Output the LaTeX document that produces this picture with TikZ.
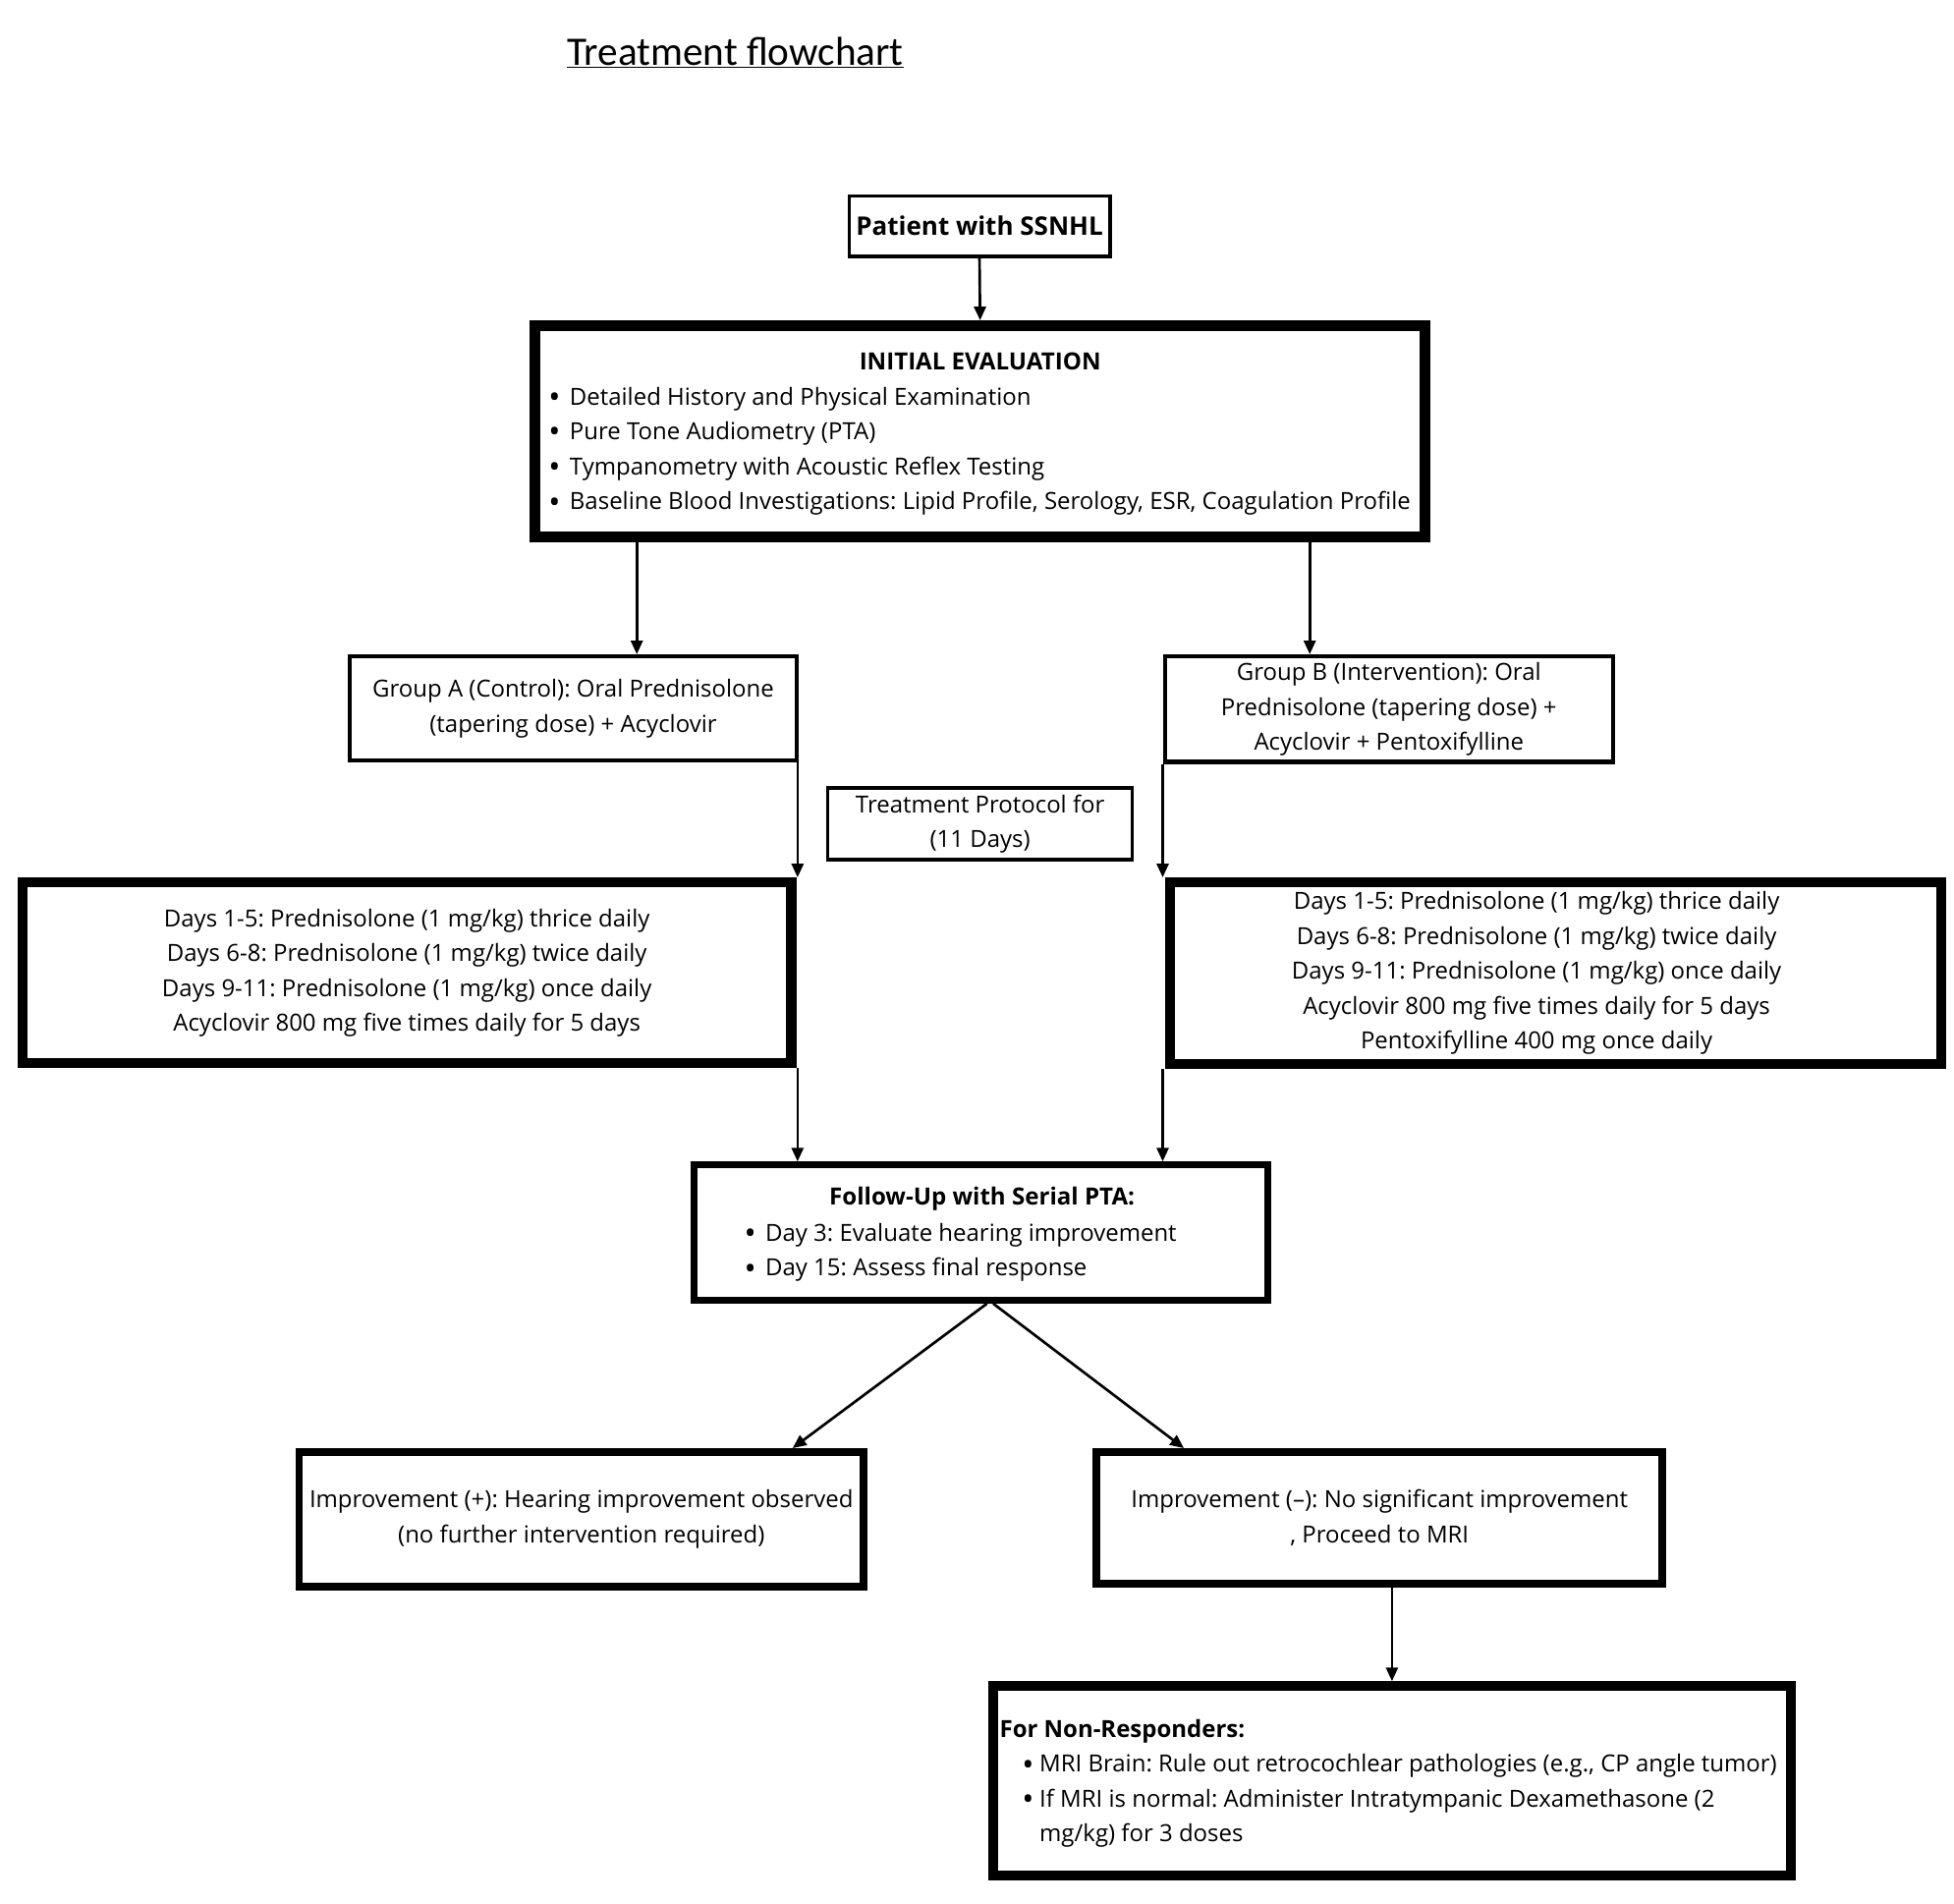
\documentclass[tikz,border=0pt]{standalone}
\usepackage{fontspec}
\setmainfont{Open Sans}
\newfontfamily\titlefont{Carlito}
\usetikzlibrary{arrows.meta}
\newcommand\bult[1]{\makebox[#1][l]{\raisebox{-2.6pt}{\scalebox{1.35}{\textbullet}}}}
\frenchspacing
\begin{document}
\begin{tikzpicture}[x=1pt,y=-1pt,
  every node/.style={font=\fontsize{18.9pt}{28pt}\selectfont},
  txt/.style={inner sep=0pt, align=center},
  box/.style={draw, inner sep=0pt, line width=#1},
  arr/.style={line width=2.1pt, -{Triangle[length=11pt,width=9.5pt]}}]
\useasboundingbox (0,0) rectangle (1568,1527);

% title
\node[txt, font=\titlefont\fontsize{32.5pt}{36pt}\selectfont] (title) at (590,42) {\underline{Treatment flowchart}};

% boxes
\node[txt, box=2.5pt, minimum width=209.5pt, minimum height=48.5pt, font=\bfseries\fontsize{20.5pt}{28pt}\selectfont] (patient) at (786,181.5) {Patient with SSNHL};

\node[box=8.5pt, minimum width=714.5pt, minimum height=169.5pt] (eval) at (786.5,346) {};
\node[txt, font=\bfseries\fontsize{19pt}{28pt}\selectfont] (evalt) at (786.5,290) {INITIAL EVALUATION};
\node[txt, align=left, anchor=west] (evalb) at (440,362) {\bult{17pt}Detailed History and Physical Examination\\
\bult{17pt}Pure Tone Audiometry (PTA)\\
\bult{17pt}Tympanometry with Acoustic Reflex Testing\\
\bult{17pt}Baseline Blood Investigations: Lipid Profile, Serology, ESR, Coagulation Profile};

\node[txt, box=3.5pt, minimum width=358.5pt, minimum height=83.5pt] (grpA) at (460,568.5) {Group A (Control): Oral Prednisolone\\(tapering dose) + Acyclovir};
\node[txt, box=3.5pt, minimum width=359.5pt, minimum height=84.5pt] (grpB) at (1114.5,569) {Group B (Intervention): Oral\\Prednisolone (tapering dose) +\\Acyclovir + Pentoxifylline};

\node[txt, box=2.5pt, minimum width=244.5pt, minimum height=57.5pt] (proto) at (786.5,661) {Treatment Protocol for\\(11 Days)};

\node[txt, box=8pt, minimum width=617pt, minimum height=145pt] (daysA) at (326.5,780.5) {Days 1-5: Prednisolone (1 mg/kg) thrice daily\\Days 6-8: Prednisolone (1 mg/kg) twice daily\\Days 9-11: Prednisolone (1 mg/kg) once daily\\Acyclovir 800 mg five times daily for 5 days};

\node[box=8pt, minimum width=619pt, minimum height=146pt] (daysB) at (1248.5,781) {};
\node[txt] (daysBt) at (1233,781) {Days 1-5: Prednisolone (1 mg/kg) thrice daily\\Days 6-8: Prednisolone (1 mg/kg) twice daily\\Days 9-11: Prednisolone (1 mg/kg) once daily\\Acyclovir 800 mg five times daily for 5 days\\Pentoxifylline 400 mg once daily};

\node[box=5.5pt, minimum width=460.5pt, minimum height=108.5pt] (follow) at (787,989) {};
\node[txt, font=\bfseries\fontsize{19pt}{28pt}\selectfont] (followt) at (788,962) {Follow-Up with Serial PTA:};
\node[txt, align=left, anchor=west] (followb) at (597,1005) {\bult{17pt}Day 3: Evaluate hearing improvement\\
\bult{17pt}Day 15: Assess final response};

\node[txt, box=6pt, minimum width=453pt, minimum height=108pt] (impP) at (466.5,1219) {Improvement (+): Hearing improvement observed\\(no further intervention required)};
\node[txt, box=6pt, minimum width=454pt, minimum height=106pt] (impM) at (1107,1218) {Improvement (--): No significant improvement\\, Proceed to MRI};

\node[box=8pt, minimum width=640pt, minimum height=152pt] (nonr) at (1117,1429) {};
\node[txt, align=left, anchor=west] (nonrt) at (802,1431) {{\bfseries For Non-Responders:}\\
\hspace*{18pt}\bult{14pt}MRI Brain: Rule out retrocochlear pathologies (e.g., CP angle tumor)\\
\hspace*{18pt}\bult{14pt}If MRI is normal: Administer Intratympanic Dexamethasone (2\\
\hspace*{32pt}mg/kg) for 3 doses};

% connector columns
\coordinate (xA) at (511,0);
\coordinate (xB) at (1051,0);
\coordinate (xL) at (640,0);
\coordinate (xR) at (933,0);
\coordinate (sA) at (792,0);
\coordinate (sB) at (797,0);
\coordinate (dA) at (636,0);
\coordinate (dB) at (950,0);
\coordinate (xM) at (1117,0);

\draw[arr] (patient.south) -- (eval.north);
\draw[arr] (eval.south -| xA) -- (grpA.north -| xA);
\draw[arr] (eval.south -| xB) -- (grpB.north -| xB);
\draw[arr] (grpA.south -| xL) -- (daysA.north -| xL);
\draw[arr] (grpB.south -| xR) -- (daysB.north -| xR);
\draw[arr] (daysA.south -| xL) -- (follow.north -| xL);
\draw[arr] (daysB.south -| xR) -- (follow.north -| xR);
\draw[arr] (follow.south -| sA) -- (impP.north -| dA);
\draw[arr] (follow.south -| sB) -- (impM.north -| dB);
\draw[arr] (impM.south -| xM) -- (nonr.north -| xM);
\end{tikzpicture}
\end{document}
